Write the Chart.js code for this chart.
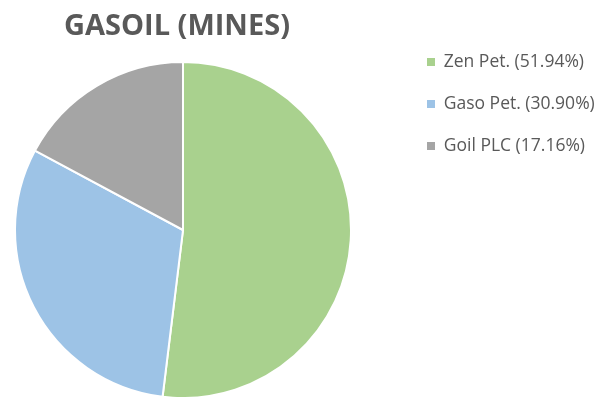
<!DOCTYPE html>
<html>
<head>
<meta charset="utf-8">
<script src="https://cdn.jsdelivr.net/npm/chart.js@4"></script>
<style>
  html, body { margin: 0; padding: 0; background: #fff; }
  #wrap { width: 606px; height: 397px; }
</style>
</head>
<body>
<div id="wrap"><canvas id="pieChart"></canvas></div>
<script>
const companies = ['Zen Pet.', 'Gaso Pet.', 'Goil PLC'];
const shares = [51.94, 30.90, 17.16];
const sliceColors = ['#a9d18e', '#9dc3e6', '#a5a5a5'];

// the original keeps a wide gap between pie and legend, so nudge the boxes after layout
const placeBoxes = {
    id: 'placeBoxes',
    afterLayout(chart) {
        const area = chart.chartArea;
        area.left = 0;
        area.right = 366;
        area.width = 366;
        // pie runs slightly past the bottom edge in the original
        area.top = 61;
        area.bottom = 399;
        area.height = 338;

        const title = chart.titleBlock;
        title.left = -6;
        title.right = 360;
        title.width = 366;

        const legend = chart.legend;
        const dx = 427 - legend.options.labels.padding - legend.left;
        legend.left += dx;
        legend.right += dx;
    }
};

const ctx = document.getElementById('pieChart').getContext('2d');

new Chart(ctx, {
    type: 'pie',
    data: {
        labels: companies,
        datasets: [{
            data: shares,
            backgroundColor: sliceColors,
            borderColor: '#ffffff',
            borderWidth: 2
        }]
    },
    options: {
        responsive: true,
        maintainAspectRatio: false,
        animation: false,
        plugins: {
            title: {
                display: true,
                text: 'GASOIL (MINES)',
                fullSize: false,
                color: '#595959',
                font: { family: 'Open Sans', size: 29, weight: 'bold' },
                padding: { top: 9, bottom: 18 }
            },
            legend: {
                position: 'right',
                align: 'start',
                title: {
                    display: true,
                    text: '',
                    font: { size: 1 },
                    padding: { top: 27.5, bottom: 0 }
                },
                labels: {
                    boxWidth: 8,
                    boxHeight: 8,
                    padding: 24.5,
                    color: '#595959',
                    font: { family: 'Open Sans', size: 17.5 },
                    generateLabels: (chart) => companies.map((name, i) => ({
                        text: name + ' (' + shares[i].toFixed(2) + '%)',
                        fillStyle: sliceColors[i],
                        strokeStyle: sliceColors[i],
                        lineWidth: 0,
                        fontColor: '#595959',
                        index: i
                    }))
                }
            },
            tooltip: { enabled: false }
        }
    },
    plugins: [placeBoxes]
});
</script>
</body>
</html>
